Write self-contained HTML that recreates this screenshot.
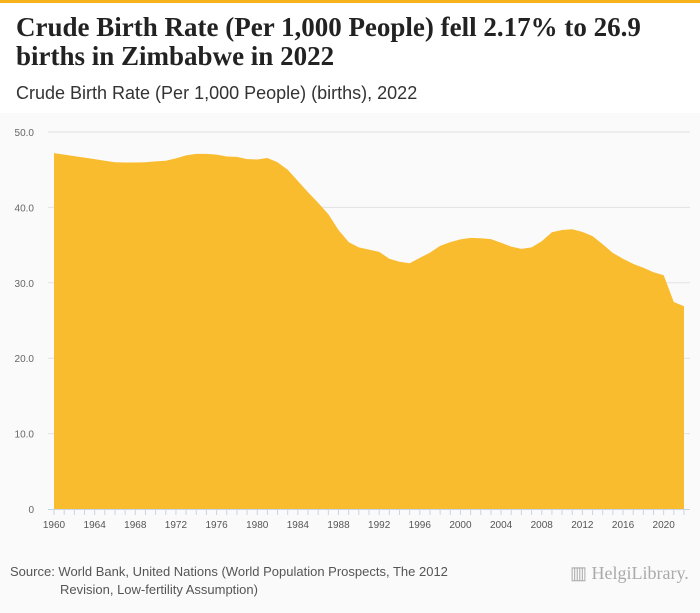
<!DOCTYPE html>
<html><head><meta charset="utf-8"><style>
body{margin:0;width:700px;height:613px;background:#fafafa;font-family:"Liberation Sans",sans-serif;overflow:hidden;position:relative}
#hdr{position:absolute;left:0;top:0;width:700px;height:113px;background:#fff;border-top:3px solid #f5b21a;box-sizing:border-box}
h1{position:absolute;left:16px;top:10px;margin:0;font-family:"Liberation Serif",serif;font-weight:bold;font-size:27px;line-height:29px;color:#222;width:640px}
#sub{position:absolute;left:16px;top:80px;font-size:18px;color:#333}
#src{position:absolute;left:10px;top:563px;font-size:13px;color:#555;line-height:18px}
#logo{position:absolute;left:570px;top:563px;font-family:"Liberation Serif",serif;font-size:18px;color:#aaa}
</style></head><body>
<div id="hdr">
<h1>Crude Birth Rate (Per 1,000 People) fell 2.17% to 26.9 births in Zimbabwe in 2022</h1>
<div id="sub">Crude Birth Rate (Per 1,000 People) (births), 2022</div>
</div>
<svg id="chart" width="700" height="613" style="position:absolute;left:0;top:0"></svg>
<div id="src">Source: World Bank, United Nations (World Population Prospects, The 2012<br><span style="padding-left:50px">Revision, Low-fertility Assumption)</span></div>
<div id="logo">▥ Helgi<span style="font-weight:normal">Library.</span></div>
<script>
const years=[];for(let y=1960;y<=2022;y++)years.push(y);
const values=[47.2,47.0,46.8,46.6,46.4,46.2,46.0,45.95,45.95,46.0,46.1,46.2,46.5,46.9,47.1,47.1,47.0,46.75,46.7,46.4,46.35,46.55,46.0,45.0,43.5,42.0,40.6,39.1,37.0,35.4,34.7,34.4,34.1,33.2,32.8,32.6,33.3,34.0,34.9,35.4,35.75,35.95,35.9,35.8,35.3,34.8,34.5,34.7,35.5,36.7,37.0,37.1,36.75,36.2,35.1,33.95,33.2,32.5,32.0,31.4,31.0,27.45,26.9];
const yTicks=[0,10,20,30,40,50];
const yTickLabels=["0","10.0","20.0","30.0","40.0","50.0"];
const xTickYears=[1960,1964,1968,1972,1976,1980,1984,1988,1992,1996,2000,2004,2008,2012,2016,2020];
const NS="http://www.w3.org/2000/svg";
const svg=document.getElementById('chart');
const X=y=>54+(y-1960)*(630/62);
const Y=v=>509-v*7.54;
function mk(t,a){const e=document.createElementNS(NS,t);for(const k in a)e.setAttribute(k,a[k]);svg.appendChild(e);return e;}
yTicks.forEach((t,i)=>{
 if(t>0){const l=mk('line',{x1:48,x2:690,y1:Y(t),y2:Y(t),stroke:'#e2e2e2','stroke-width':1});
 
 }
 const tx=mk('text',{x:34,y:Y(t)+4,'text-anchor':'end','font-size':10,fill:'#666','font-family':'Liberation Sans, sans-serif'});
 tx.textContent=yTickLabels[i];
 
 
});
let d='M'+X(years[0])+','+Y(0);
years.forEach((y,i)=>{d+=' L'+X(y).toFixed(1)+','+Y(values[i]).toFixed(1);});
d+=' L'+X(years[years.length-1])+','+Y(0)+' Z';
const area=mk('path',{d:d,fill:'#f9bc2f'});


const ax=mk('line',{x1:48,x2:690,y1:509.5,y2:509.5,stroke:'#c8d4e8'});


years.forEach(y=>{const t=mk('line',{x1:X(y),x2:X(y),y1:509,y2:515,stroke:'#c8d4e8'});
 
 });
xTickYears.forEach(y=>{const t=mk('text',{x:X(y),y:528,'text-anchor':'middle','font-size':10,fill:'#555','font-family':'Liberation Sans, sans-serif'});
 t.textContent=y;
 
 });
</script>
</body></html>
